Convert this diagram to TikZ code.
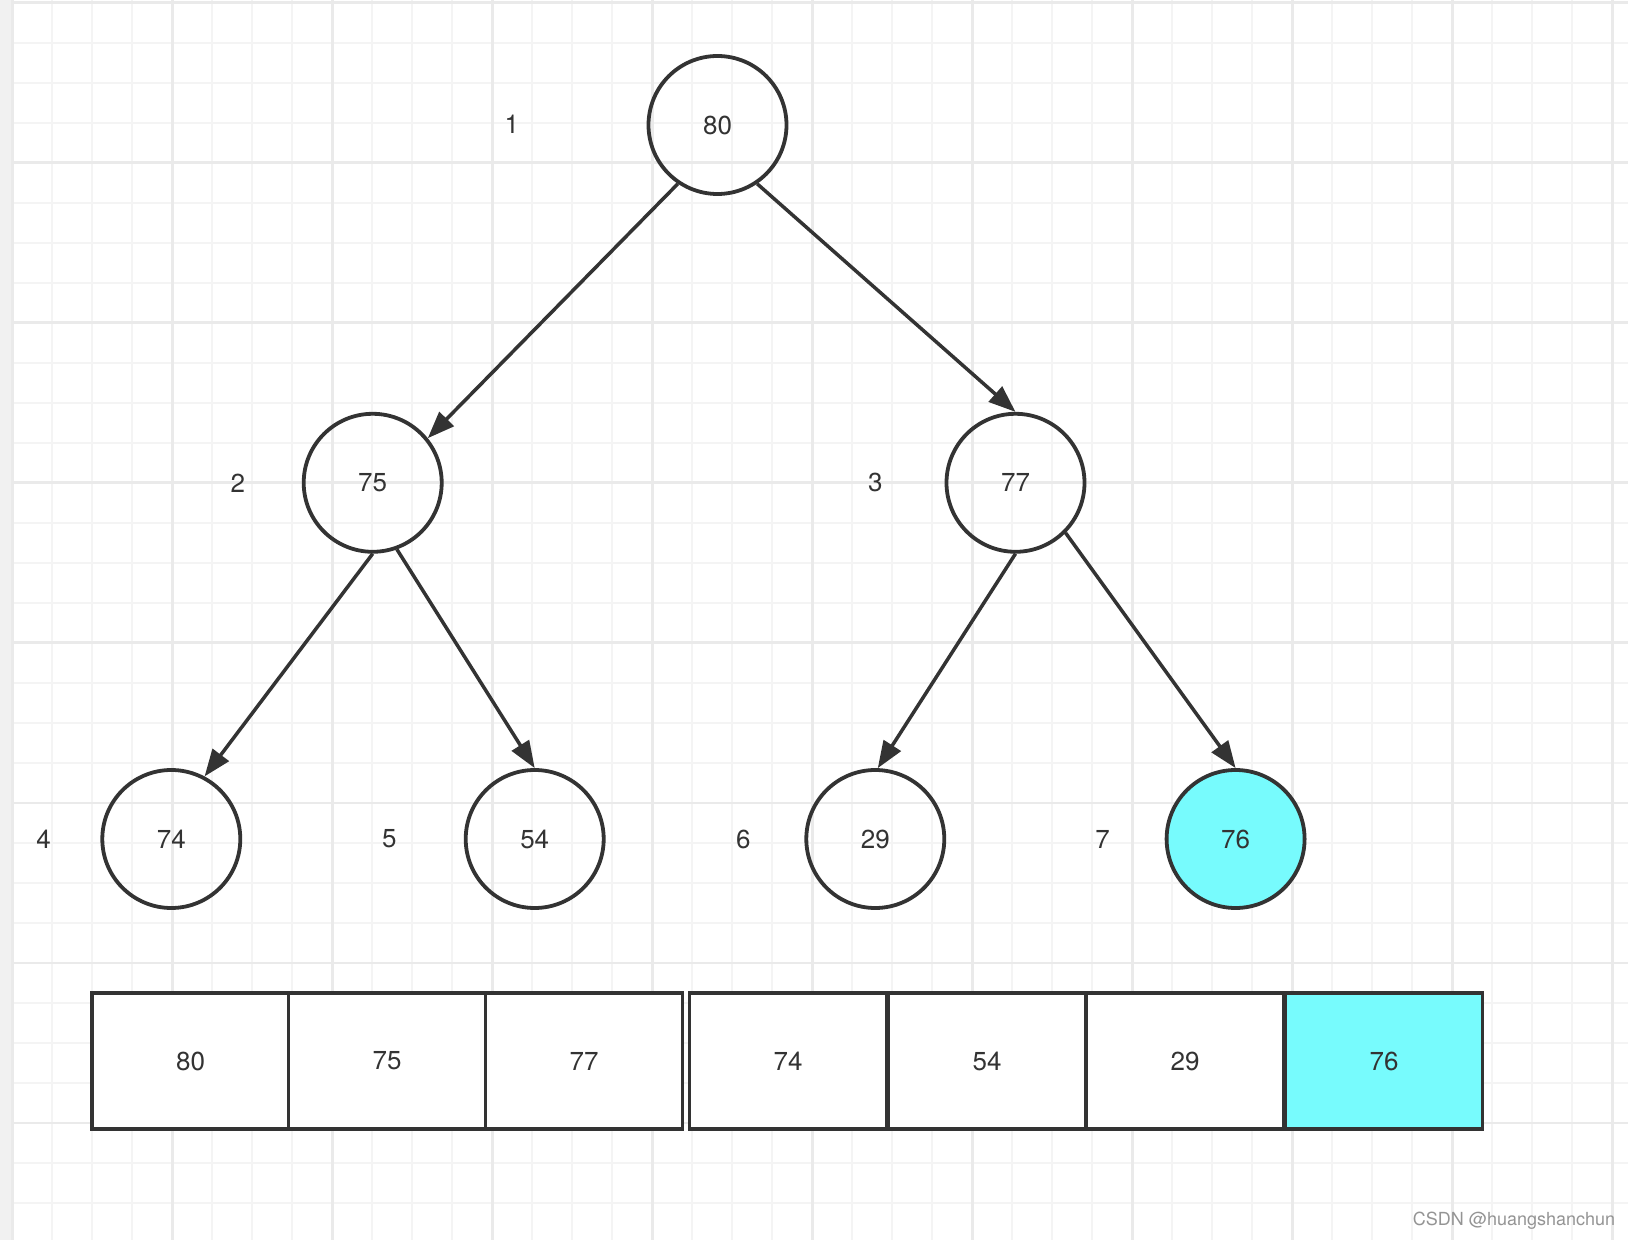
\documentclass[tikz,border=0pt]{standalone}
\usepackage{fontspec}
\setmainfont{TeX Gyre Heros}
\usetikzlibrary{arrows.meta}
\definecolor{ink}{HTML}{333333}
\definecolor{heapcyan}{HTML}{77FBFD}
\definecolor{gridminor}{HTML}{F4F4F4}
\definecolor{gridmajor}{HTML}{EAEAEA}
\definecolor{sidebar}{HTML}{F1F1F1}

\begin{document}
\begin{tikzpicture}[
    x=0.5pt, y=-0.5pt,
    circ/.style={circle, draw=ink, line width=1.9pt, minimum size=69pt,
                 inner sep=0pt, font=\fontsize{13}{15}\selectfont, text=ink},
    hot/.style={fill=heapcyan},
    idx/.style={font=\fontsize{13}{15}\selectfont, text=ink},
    cell/.style={rectangle, draw=ink, line width=1.9pt, fill=white,
                 minimum width=98.5pt, minimum height=68pt, inner sep=0pt,
                 font=\fontsize{13}{15}\selectfont, text=ink},
    arr/.style={-{Triangle[length=13.5pt, width=10pt]}, draw=ink, line width=1.75pt},
    minorline/.style={draw=gridminor, line width=1pt},
    majorline/.style={draw=gridmajor, line width=1.2pt}
]
\useasboundingbox (0,0) rectangle (1628,1240);

% paper grid
\fill[white] (0,0) rectangle (1628,1240);
\fill[sidebar] (0,0) rectangle (12,1240);
\foreach \k in {1,...,40} \draw[minorline] (12.3+40*\k,0) -- ++(0,1240);
\foreach \k in {0,...,30} \draw[minorline] (12,2.7+40*\k) -- ++(1616,0);
\foreach \k in {0,4,...,40} \draw[majorline] (12.3+40*\k,0) -- ++(0,1240);
\foreach \k in {0,4,...,28} \draw[majorline] (12,2.7+40*\k) -- ++(1616,0);

% heap as tree
\node[circ] (n80) at (717.5,125) {80};
\node[circ] (n75) at (372.7,482.8) {75};
\node[circ] (n77) at (1015.5,482.8) {77};
\node[circ] (n74) at (171.3,839) {74};
\node[circ] (n54) at (534.7,839) {54};
\node[circ] (n29) at (875.3,839) {29};
\node[circ, hot] (n76) at (1235.6,839) {76};

\node[idx] (i1) at (511.9,124.6) {1};
\node[idx] (i2) at (237.8,482.8) {2};
\node[idx] (i3) at (875.3,482.8) {3};
\node[idx] (i4) at (43.6,839) {4};
\node[idx] (i5) at (389.4,839) {5};
\node[idx] (i6) at (743.4,839) {6};
\node[idx] (i7) at (1102.7,839) {7};

\draw[arr] (n80.236) -- (n75.39);
\draw[arr] (n80.304) -- (n77.90);
\draw[arr] (n75.270) -- (n74.62);
\draw[arr] (n75.290) -- (n54.90);
\draw[arr] (n77.270) -- (n29.88);
\draw[arr] (n77.315) -- (n76.90);

% heap as array
\node[cell] (c1) at (190.5,1061) {80};
\node[cell] (c2) at (387,1061) {75};
\node[cell] (c3) at (584,1061) {77};
\node[cell] (c4) at (788,1061) {74};
\node[cell] (c5) at (987,1061) {54};
\node[cell] (c6) at (1185,1061) {29};
\node[cell, hot] (c7) at (1384,1061) {76};

\node[font=\fontsize{9}{11}\selectfont, text=black!42] (wm) at (1514,1221) {CSDN @huangshanchun};
\end{tikzpicture}
\end{document}
